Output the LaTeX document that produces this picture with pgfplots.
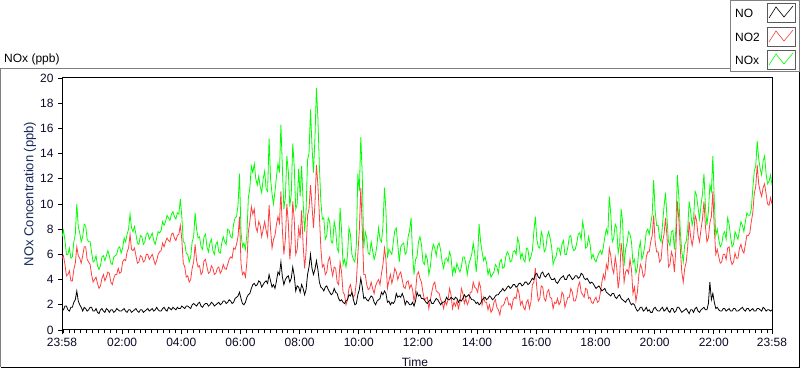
\documentclass[border=0pt]{standalone}
\usepackage{fontspec}
\setmainfont{Liberation Sans}
\usepackage{pgfplots}
\usepackage{pgfplotstable}
\pgfplotsset{compat=1.18}
\definecolor{lvgreen}{RGB}{0,255,0}
\definecolor{lvred}{RGB}{255,64,64}
\definecolor{lvnavy}{RGB}{20,40,90}
\definecolor{lvtick}{RGB}{10,10,40}
\definecolor{lvgray}{RGB}{128,128,128}
\pgfplotstableread{
t no no2 nox
0.0 1.7 5.7 7.4
0.05 1.6 5.9 7.9
0.1 1.9 5.2 7.1
0.15 1.9 4.3 6.0
0.2 1.6 4.4 6.0
0.25 1.5 4.7 6.5
0.3 1.8 3.9 5.7
0.35 1.8 3.9 5.8
0.4 2.2 4.8 7.0
0.45 2.4 5.3 7.6
0.5 3.1 6.6 10.0
0.55 2.3 5.9 8.2
0.6 2.0 5.7 7.7
0.65 1.8 5.3 7.0
0.7 1.5 5.9 7.4
0.75 1.8 6.6 8.4
0.8 1.7 6.6 8.3
0.85 1.5 5.6 7.2
0.9 1.6 5.4 7.0
0.95 1.8 5.2 7.0
1.0 1.8 4.4 6.2
1.05 1.5 3.8 5.4
1.1 1.5 4.0 5.5
1.15 1.7 4.2 5.9
1.2 1.4 3.7 5.1
1.25 1.3 3.3 4.8
1.3 1.6 3.5 5.1
1.35 1.7 4.1 5.8
1.4 1.5 4.4 5.9
1.45 1.4 3.9 5.5
1.5 1.7 4.2 5.9
1.55 1.6 4.6 6.3
1.6 1.4 4.5 5.9
1.65 1.6 3.8 5.3
1.7 1.6 3.6 5.2
1.75 1.4 4.1 5.8
1.8 1.5 4.4 5.9
1.85 1.7 4.4 6.0
1.9 1.6 4.9 6.5
1.95 1.5 4.5 6.6
2.0 1.5 4.6 6.1
2.05 1.6 5.4 6.5
2.1 1.7 5.6 7.3
2.15 1.5 5.5 7.0
2.2 1.4 6.2 7.6
2.25 1.6 6.5 8.0
2.3 1.6 7.6 9.2
2.35 1.4 6.4 8.1
2.4 1.5 6.3 7.8
2.45 1.6 6.5 8.2
2.5 1.7 5.9 7.6
2.55 1.5 5.3 6.9
2.6 1.4 5.4 6.8
2.65 1.6 5.9 7.5
2.7 1.6 5.8 7.4
2.75 1.4 5.4 6.8
2.8 1.5 5.5 7.0
2.85 1.6 6.0 7.6
2.9 1.7 6.0 7.7
2.95 1.5 5.6 7.2
3.0 1.6 5.8 7.4
3.05 1.7 6.0 7.7
3.1 1.5 5.6 7.1
3.15 1.6 5.2 6.8
3.2 1.8 5.5 7.3
3.25 1.6 6.0 7.8
3.3 1.5 6.2 7.7
3.35 1.5 6.3 7.9
3.4 1.7 6.9 8.6
3.45 1.8 6.6 8.3
3.5 1.6 7.0 8.6
3.55 1.5 7.3 9.1
3.6 1.8 7.1 8.9
3.65 1.7 7.0 8.7
3.7 1.6 7.6 9.2
3.75 1.8 7.7 9.4
3.8 1.7 7.3 9.0
3.85 1.6 7.1 8.8
3.9 1.8 7.5 9.3
3.95 1.7 7.6 9.2
4.0 1.7 8.3 10.4
4.05 1.9 7.2 9.0
4.1 1.8 5.3 7.0
4.15 1.7 5.0 6.9
4.2 1.9 4.2 6.1
4.25 1.9 4.3 6.0
4.3 1.8 3.8 5.4
4.35 1.7 4.0 5.8
4.4 2.0 4.9 7.0
4.45 2.1 5.4 7.4
4.5 2.0 6.8 9.3
4.55 1.9 5.5 8.0
4.6 2.1 5.0 7.3
4.65 2.2 5.1 7.4
4.7 1.9 4.4 6.6
4.75 1.8 4.6 6.4
4.8 2.0 5.5 7.4
4.85 2.1 5.6 7.6
4.9 2.1 5.0 6.6
4.95 1.9 4.5 6.2
5.0 2.0 4.6 6.9
5.05 2.2 5.1 7.2
5.1 2.1 4.9 6.3
5.15 1.9 4.4 6.0
5.2 2.0 4.5 6.8
5.25 2.1 4.9 7.0
5.3 2.2 5.0 6.2
5.35 2.0 4.5 6.1
5.4 2.1 4.7 6.9
5.45 2.3 5.2 7.4
5.5 2.3 4.9 7.0
5.55 2.1 4.8 6.8
5.6 2.2 5.2 8.0
5.65 2.4 5.6 7.9
5.7 2.3 5.8 7.4
5.75 2.1 5.7 7.3
5.8 2.2 6.5 8.4
5.85 2.5 6.4 8.9
5.9 2.6 6.8 9.0
5.95 2.7 7.4 9.9
6.0 3.0 9.0 12.4
6.05 2.5 5.3 7.8
6.1 2.1 4.4 6.6
6.15 2.0 4.6 6.9
6.2 2.2 4.2 6.4
6.25 2.6 5.4 7.6
6.3 2.8 7.8 10.5
6.35 2.9 8.6 11.3
6.4 3.3 9.8 13.0
6.45 3.6 9.2 12.5
6.5 3.7 9.6 13.2
6.55 3.5 8.2 12.0
6.6 3.6 7.8 11.5
6.65 3.9 8.6 12.2
6.7 3.8 8.3 11.4
6.75 3.4 7.4 10.9
6.8 3.6 8.0 12.0
6.85 3.8 8.6 12.6
6.9 3.9 7.9 11.2
6.95 3.7 7.4 11.0
7.0 4.4 9.9 15.2
7.05 3.9 8.0 12.0
7.1 3.4 6.5 10.8
7.15 3.6 7.2 10.0
7.2 3.3 7.5 11.0
7.25 3.9 8.4 12.2
7.3 4.6 9.0 13.2
7.35 4.4 8.5 12.5
7.4 5.4 11.0 16.3
7.45 4.2 7.9 12.8
7.5 3.6 6.0 9.6
7.55 4.0 7.2 10.5
7.6 4.2 10.0 13.8
7.65 4.3 8.5 12.6
7.7 3.8 5.6 9.8
7.75 4.1 7.0 10.8
7.8 5.0 10.2 14.8
7.85 4.3 8.8 13.0
7.9 3.1 6.0 9.6
7.95 3.5 6.4 10.0
8.0 3.4 8.1 12.8
8.05 3.0 7.3 10.6
8.1 3.6 9.5 13.0
8.15 3.3 6.8 10.2
8.2 2.8 4.9 7.8
8.25 3.2 6.2 9.4
8.3 4.4 9.1 13.5
8.35 5.0 9.6 14.0
8.4 6.0 11.5 17.5
8.45 4.9 9.9 14.6
8.5 4.4 8.1 12.5
8.55 4.8 10.0 15.2
8.6 5.5 13.1 19.2
8.65 4.8 11.5 16.8
8.7 3.8 9.1 13.0
8.75 3.4 6.5 10.2
8.8 3.3 5.0 8.8
8.85 3.1 5.2 8.9
8.9 3.4 4.4 7.2
8.95 3.5 4.6 7.5
9.0 3.2 5.5 8.9
9.05 3.0 5.8 8.6
9.1 2.8 4.9 7.0
9.15 2.9 4.3 6.9
9.2 3.3 5.0 8.6
9.25 3.0 4.9 8.0
9.3 2.9 3.8 6.5
9.35 2.5 3.6 6.2
9.4 2.3 5.4 9.7
9.45 2.4 4.6 7.9
9.5 2.2 3.0 5.2
9.55 2.1 2.8 5.6
9.6 2.3 2.0 5.0
9.65 2.4 2.4 5.9
9.7 2.8 3.3 8.1
9.75 2.7 3.6 7.6
9.8 3.0 3.0 6.0
9.85 2.4 2.6 5.6
9.9 2.0 2.8 5.4
9.95 2.1 3.8 6.8
10.0 2.8 6.0 12.4
10.05 3.2 7.9 11.0
10.1 4.1 11.3 15.3
10.15 3.4 8.0 12.2
10.2 2.5 4.4 6.5
10.25 2.6 4.4 7.8
10.3 2.4 3.6 7.3
10.35 2.3 3.2 6.1
10.4 2.5 3.3 6.0
10.45 2.7 3.8 7.0
10.5 2.6 3.3 6.3
10.55 2.2 2.9 5.6
10.6 2.0 3.5 6.0
10.65 2.3 3.8 6.8
10.7 2.4 4.0 8.1
10.75 2.5 3.6 7.2
10.8 3.0 4.5 7.0
10.85 2.8 5.2 8.3
10.9 3.1 6.5 11.3
10.95 2.9 5.6 9.5
11.0 2.2 3.3 5.7
11.05 2.3 3.9 6.4
11.1 2.0 4.4 6.2
11.15 2.2 3.7 6.0
11.2 2.1 4.2 7.0
11.25 2.3 4.9 7.9
11.3 2.9 4.6 8.1
11.35 2.6 4.0 6.8
11.4 2.7 4.4 5.4
11.45 2.6 4.6 6.6
11.5 2.9 4.0 6.8
11.55 2.6 3.4 6.9
11.6 2.0 3.3 6.0
11.65 2.3 3.8 6.2
11.7 2.2 3.9 7.4
11.75 2.0 3.3 7.9
11.8 2.0 3.6 8.9
11.85 2.2 3.2 6.0
11.9 1.9 2.3 4.4
11.95 2.3 3.0 5.6
12.0 3.0 4.4 5.8
12.05 2.7 4.6 7.0
12.1 2.8 4.1 7.4
12.15 2.5 3.8 6.8
12.2 2.5 3.0 5.4
12.25 2.4 2.4 5.2
12.3 2.2 2.5 6.0
12.35 2.1 2.6 5.6
12.4 2.3 1.7 4.4
12.45 2.4 2.4 5.0
12.5 2.1 3.0 6.2
12.55 2.1 3.6 6.8
12.6 2.3 3.8 6.5
12.65 2.5 3.1 5.9
12.7 2.4 3.0 6.7
12.75 2.2 2.9 6.9
12.8 2.0 2.4 6.3
12.85 2.2 2.2 5.4
12.9 2.2 1.7 4.9
12.95 2.3 2.3 5.6
13.0 2.6 2.0 5.7
13.05 2.4 2.4 5.4
13.1 2.4 3.3 6.2
13.15 2.6 2.8 5.8
13.2 2.5 1.7 4.4
13.25 2.4 2.2 5.0
13.3 2.6 1.9 4.6
13.35 2.5 2.3 5.3
13.4 2.2 1.7 4.9
13.45 2.4 2.2 4.6
13.5 2.3 3.3 5.0
13.55 2.5 2.9 5.8
13.6 2.8 2.1 5.8
13.65 2.6 2.5 5.3
13.7 2.7 2.0 4.4
13.75 2.8 2.3 5.2
13.8 2.6 3.0 5.6
13.85 2.4 3.0 6.0
13.9 2.4 3.8 6.9
13.95 2.3 3.4 6.1
14.0 2.1 3.3 4.6
14.05 2.2 3.0 5.9
14.1 2.0 3.8 8.4
14.15 2.1 3.4 7.0
14.2 2.4 2.0 6.2
14.25 2.5 2.6 5.5
14.3 2.6 2.2 5.8
14.35 2.4 2.2 5.3
14.4 2.5 1.6 4.4
14.45 2.7 2.0 4.8
14.5 2.6 1.4 4.2
14.55 2.4 1.6 4.4
14.6 2.5 2.2 4.6
14.65 2.7 2.4 5.2
14.7 2.8 1.8 5.0
14.75 2.8 1.6 4.5
14.8 3.0 1.2 5.4
14.85 3.1 1.9 5.6
14.9 3.3 1.9 4.9
14.95 3.1 2.1 5.0
15.0 3.2 2.5 5.8
15.05 3.4 2.6 6.2
15.1 3.5 2.0 6.0
15.15 3.3 2.1 5.4
15.2 3.4 1.7 5.5
15.25 3.6 2.4 6.2
15.3 3.6 2.6 6.3
15.35 3.4 2.5 6.0
15.4 3.5 3.3 7.3
15.45 3.7 2.9 6.9
15.5 3.7 2.0 5.7
15.55 3.5 2.3 6.1
15.6 3.6 1.8 5.6
15.65 3.8 1.6 5.4
15.7 3.8 2.2 6.5
15.75 3.6 2.4 6.4
15.8 3.7 1.7 5.5
15.85 3.9 2.2 5.8
15.9 4.1 3.6 6.3
15.95 4.0 3.8 7.8
16.0 4.4 4.9 9.0
16.05 4.5 3.3 7.2
16.1 4.2 2.3 6.6
16.15 4.1 2.5 6.5
16.2 4.5 3.5 7.8
16.25 4.6 3.4 7.4
16.3 4.3 2.5 6.2
16.35 4.2 2.3 6.4
16.4 4.4 3.0 7.4
16.45 4.5 3.2 7.8
16.5 4.2 2.6 7.3
16.55 4.0 2.5 6.6
16.6 4.0 1.7 5.2
16.65 4.1 2.2 5.6
16.7 3.8 2.1 5.8
16.75 3.7 2.5 6.5
16.8 3.9 2.0 6.5
16.85 4.1 2.2 6.0
16.9 4.2 3.0 6.8
16.95 4.3 2.8 7.1
17.0 4.0 1.8 6.0
17.05 4.0 2.2 6.0
17.1 4.3 2.6 6.6
17.15 4.4 2.6 7.4
17.2 4.2 3.3 7.5
17.25 4.0 3.0 6.6
17.3 4.1 2.3 6.3
17.35 4.3 2.3 6.4
17.4 4.3 2.7 6.9
17.45 4.1 3.5 7.6
17.5 4.2 3.8 7.7
17.55 4.5 3.0 7.2
17.6 4.4 2.8 8.6
17.65 4.1 2.6 7.9
17.7 4.0 3.3 6.5
17.75 4.1 3.2 6.6
17.8 3.9 2.5 7.4
17.85 3.7 2.6 6.8
17.9 3.8 2.2 5.7
17.95 3.7 2.1 6.0
18.0 3.5 2.4 5.6
18.05 3.3 2.6 5.4
18.1 3.4 2.2 5.8
18.15 3.5 2.3 6.1
18.2 3.3 3.0 6.3
18.25 3.1 3.8 6.0
18.3 3.2 4.4 6.6
18.35 3.3 4.0 7.4
18.4 3.0 5.2 8.0
18.45 2.9 4.8 7.6
18.5 2.8 6.5 10.6
18.55 2.7 5.9 9.2
18.6 2.9 4.9 7.0
18.65 2.9 4.5 7.3
18.7 2.6 5.8 8.4
18.75 2.5 5.0 8.1
18.8 2.7 3.3 6.1
18.85 2.8 4.2 6.8
18.9 2.5 6.9 9.6
18.95 2.4 5.9 8.6
19.0 2.3 3.8 5.1
19.05 2.2 4.6 6.4
19.1 2.4 4.8 6.9
19.15 2.5 4.5 7.8
19.2 2.2 5.6 7.6
19.25 2.0 4.8 7.0
19.3 2.1 2.9 5.3
19.35 2.0 3.4 5.6
19.4 1.7 2.3 4.5
19.45 1.5 3.0 5.0
19.5 1.6 4.4 6.4
19.55 1.8 5.2 7.0
19.6 1.8 4.9 5.6
19.65 1.5 4.2 6.0
19.7 1.6 4.4 6.7
19.75 1.8 5.8 7.8
19.8 1.5 6.2 8.0
19.85 1.6 6.2 7.6
19.9 1.4 7.0 8.4
19.95 1.4 7.5 9.2
20.0 1.7 9.1 11.9
20.05 1.8 7.0 9.4
20.1 1.6 6.2 8.3
20.15 1.5 6.2 8.3
20.2 1.5 5.4 7.3
20.25 1.7 5.6 7.0
20.3 1.8 7.0 8.4
20.35 1.5 7.6 9.8
20.4 1.6 8.9 10.9
20.45 1.8 7.4 8.9
20.5 1.5 5.0 7.0
20.55 1.4 5.2 6.7
20.6 1.7 6.2 7.8
20.65 1.7 5.8 7.9
20.7 1.4 4.6 6.4
20.75 1.5 6.4 8.0
20.8 1.8 10.2 12.3
20.85 1.8 8.8 10.6
20.9 1.6 6.5 7.8
20.95 1.4 4.6 6.3
21.0 1.5 3.8 5.4
21.05 1.6 4.9 6.8
21.1 1.7 5.4 7.0
21.15 1.5 6.6 8.0
21.2 1.3 8.6 10.2
21.25 1.6 7.4 9.4
21.3 1.6 6.7 8.3
21.35 1.4 7.4 8.9
21.4 1.7 9.1 11.0
21.45 1.8 8.7 10.7
21.5 1.5 7.5 9.7
21.55 1.4 7.0 8.8
21.6 1.6 8.0 9.9
21.65 1.7 8.8 10.8
21.7 1.8 10.2 12.4
21.75 1.6 8.2 9.8
21.8 1.6 7.0 8.3
21.85 2.1 7.3 9.4
21.9 3.8 8.5 11.5
21.95 2.4 9.0 11.0
22.0 2.9 11.0 13.8
22.05 2.2 8.0 10.2
22.1 1.7 6.0 7.5
22.15 1.8 6.4 8.0
22.2 1.6 5.8 7.2
22.25 1.5 5.3 6.6
22.3 1.5 5.4 6.8
22.35 1.7 6.0 7.6
22.4 1.7 6.0 7.8
22.45 1.5 5.6 7.2
22.5 1.6 6.5 8.9
22.55 1.7 6.6 8.4
22.6 1.5 5.6 7.4
22.65 1.5 5.2 6.6
22.7 1.7 5.4 6.8
22.75 1.7 6.1 7.8
22.8 1.5 5.7 7.5
22.85 1.5 5.7 7.2
22.9 1.6 6.5 7.9
22.95 1.7 6.8 8.6
23.0 1.8 6.3 8.3
23.05 1.6 6.1 7.8
23.1 1.5 6.8 8.6
23.15 1.7 7.5 9.3
23.2 1.7 7.5 9.1
23.25 1.5 7.7 9.1
23.3 1.6 8.6 9.6
23.35 1.7 9.3 11.2
23.4 1.5 10.8 12.6
23.45 1.5 11.4 13.0
23.5 1.7 13.1 15.0
23.55 1.7 11.6 13.6
23.6 1.6 11.0 12.8
23.65 1.5 10.6 12.3
23.7 1.8 11.3 13.4
23.75 1.7 11.6 13.8
23.8 1.5 10.8 12.4
23.85 1.6 10.0 11.6
23.9 1.6 9.9 11.8
23.95 1.5 10.5 12.3
24.0 1.6 10.0 11.5
}\datatable
\begin{document}
\begin{tikzpicture}[x=1pt,y=1pt,font=\fontsize{12}{14}\selectfont]
\useasboundingbox (0,0) rectangle (800,369);
% outer frame
\draw[lvgray,line width=1pt] (0.5,2) -- (0.5,300) -- (730,300);
\draw[black,line width=1pt] (0.5,1.5) -- (799.5,1.5) -- (799.5,297);
% legend box
\draw[lvgray,line width=1pt,fill=white] (730,297) rectangle (799.5,368.5);
\node[anchor=west,inner sep=0] at (735,356) {NO};
\node[anchor=west,inner sep=0] at (735,332) {NO2};
\node[anchor=west,inner sep=0] at (735,309) {NOx};
\foreach \yy/\cc in {347/black,323/lvred,300/lvgreen}{
  \draw[lvgray!70!black,line width=0.8pt] (767,\yy) rectangle (795,\yy+19);
  \draw[\cc,line width=0.6pt] (769,\yy+4) -- (776,\yy+15) -- (784,\yy+5) -- (793,\yy+16);
}
\node[anchor=west,inner sep=0] at (4,310) {NOx (ppb)};
\begin{axis}[
  at={(62pt,39pt)}, anchor=south west,
  scale only axis, width=710pt, height=252pt,
  xmin=0, xmax=24, ymin=0, ymax=20,
  axis line style={black,line width=1pt},
  tick style={black,line width=0.8pt},
  tick align=outside,
  xtick={0,2.0333,4.0333,6.0333,8.0333,10.0333,12.0333,14.0333,16.0333,18.0333,20.0333,22.0333,24},
  xticklabels={23:58,02:00,04:00,06:00,08:00,10:00,12:00,14:00,16:00,18:00,20:00,22:00,23:58},
  minor xtick={0.0333,0.2333,...,23.95},
  major tick length=4pt, minor tick length=3.5pt,
  ytick={0,2,...,20},
  xtick pos=bottom, ytick pos=left,
  ticklabel style={color=lvtick,font=\fontsize{12}{14}\selectfont},
  /pgf/number format/assume math mode=true,
  xticklabel style={yshift=-0.5pt},
  yticklabel style={xshift=-1pt},
  ylabel={NOx Concentration (ppb)},
  ylabel style={color=lvnavy,font=\fontsize{13}{15}\selectfont,at={(axis description cs:-0.045,0.54)},anchor=center},
  xlabel={Time},
  xlabel style={color=lvtick,at={(axis description cs:0.497,-0.127)},anchor=center},
  clip=true,
]
\addplot[lvgreen,line width=0.8pt,mark=none] table[x=t,y=nox] {\datatable};
\addplot[lvred,line width=0.8pt,mark=none] table[x=t,y=no2] {\datatable};
\addplot[black,line width=0.8pt,mark=none] table[x=t,y=no] {\datatable};
\end{axis}
\end{tikzpicture}
\end{document}
